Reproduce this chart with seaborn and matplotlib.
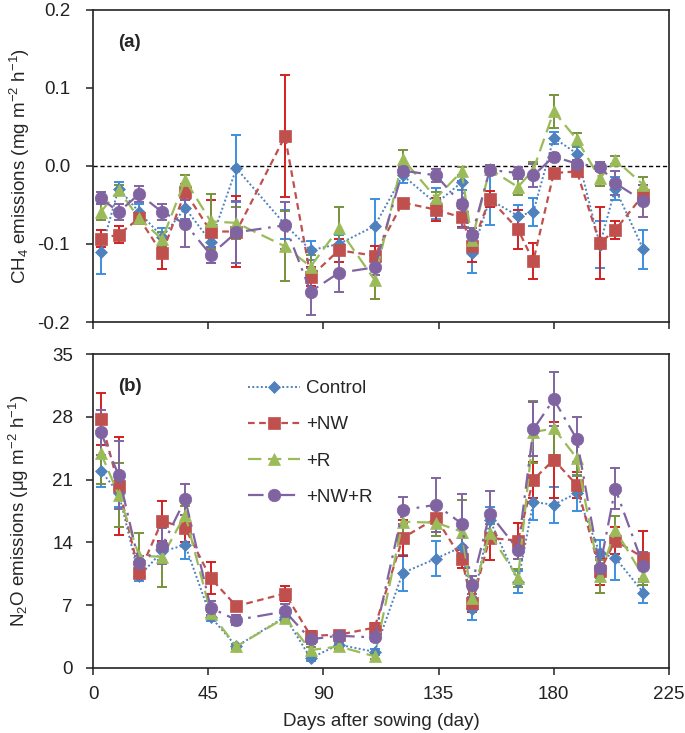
import numpy as np
import pandas as pd
import matplotlib
matplotlib.use("Agg")
import matplotlib.pyplot as plt
import seaborn as sns

days = [3, 10, 18, 27, 36, 46, 56, 75, 85, 96, 110, 121, 134, 144, 148, 155, 166, 172, 180, 189, 198, 204, 215]
treatments = ["Control", "+NW", "+R", "+NW+R"]

ch4_control = [-0.110, -0.029, -0.059, -0.091, -0.054, -0.097, -0.003, -0.075, -0.108, -0.100, -0.077, -0.012, -0.048, -0.021, -0.112, -0.043, -0.064, -0.059, 0.036, 0.016, -0.101, -0.029, -0.107]
ch4_nw = [-0.093, -0.088, -0.067, -0.112, -0.033, -0.084, -0.084, 0.038, -0.142, -0.108, -0.115, -0.047, -0.056, -0.066, -0.103, -0.042, -0.081, -0.122, -0.009, -0.007, -0.099, -0.082, -0.037]
ch4_r = [-0.059, -0.031, -0.067, -0.094, -0.018, -0.071, -0.073, -0.103, -0.129, -0.080, -0.146, 0.009, -0.041, -0.007, -0.095, -0.004, -0.027, -0.005, 0.070, 0.034, -0.016, 0.008, -0.024]
ch4_nwr = [-0.041, -0.059, -0.036, -0.059, -0.074, -0.114, -0.085, -0.076, -0.161, -0.137, -0.130, -0.006, -0.012, -0.049, -0.089, -0.005, -0.009, -0.012, 0.012, 0.003, -0.001, -0.022, -0.045]

ch4_control_err = [0.028, 0.008, 0.010, 0.012, 0.014, 0.008, 0.043, 0.018, 0.012, 0.012, 0.035, 0.010, 0.020, 0.010, 0.025, 0.033, 0.014, 0.018, 0.008, 0.008, 0.030, 0.015, 0.025]
ch4_nw_err = [0.011, 0.011, 0.008, 0.020, 0.010, 0.040, 0.045, 0.078, 0.012, 0.015, 0.012, 0.005, 0.015, 0.012, 0.020, 0.010, 0.025, 0.023, 0.005, 0.005, 0.046, 0.012, 0.012]
ch4_r_err = [0.010, 0.006, 0.008, 0.010, 0.006, 0.035, 0.020, 0.045, 0.015, 0.028, 0.025, 0.012, 0.008, 0.006, 0.015, 0.004, 0.010, 0.010, 0.021, 0.008, 0.010, 0.005, 0.010]
ch4_nwr_err = [0.008, 0.010, 0.010, 0.010, 0.030, 0.010, 0.040, 0.030, 0.030, 0.025, 0.010, 0.006, 0.008, 0.030, 0.010, 0.006, 0.008, 0.015, 0.005, 0.005, 0.006, 0.015, 0.020]

n2o_control = [22.0, 19.5, 10.2, 13.0, 13.7, 5.7, 2.4, 5.7, 1.1, 2.6, 1.8, 10.6, 12.2, 13.5, 6.6, 16.5, 9.6, 18.5, 18.2, 19.5, 12.8, 12.3, 8.4]
n2o_nw = [27.8, 20.3, 10.6, 16.4, 15.6, 10.0, 6.9, 8.3, 3.6, 3.7, 4.5, 14.5, 16.7, 12.2, 7.2, 14.5, 14.2, 21.0, 23.2, 20.4, 10.8, 14.2, 12.3]
n2o_r = [24.0, 19.3, 12.5, 12.4, 17.1, 6.1, 2.4, 5.6, 2.0, 2.4, 1.3, 16.3, 16.2, 15.2, 7.8, 15.0, 10.0, 26.3, 26.7, 23.4, 10.2, 15.4, 10.2]
n2o_nwr = [26.3, 21.5, 11.7, 13.6, 18.8, 6.7, 5.35, 6.3, 3.2, 3.6, 3.4, 17.6, 18.2, 16.1, 9.3, 17.2, 13.2, 26.6, 29.95, 25.5, 11.2, 20.0, 11.4]

n2o_control_err = [1.8, 1.5, 0.5, 1.0, 1.5, 0.5, 0.3, 0.5, 0.3, 0.3, 0.3, 2.0, 2.0, 1.0, 1.3, 1.5, 1.2, 2.0, 2.0, 2.0, 1.5, 2.5, 1.2]
n2o_nw_err = [2.9, 5.5, 0.5, 2.2, 1.5, 1.8, 0.5, 0.8, 0.5, 0.3, 0.5, 2.0, 1.5, 1.0, 1.0, 2.5, 2.0, 2.0, 4.2, 1.5, 1.5, 1.5, 3.0]
n2o_r_err = [3.5, 3.6, 2.5, 3.4, 1.0, 0.5, 0.3, 0.5, 0.3, 0.3, 0.3, 1.5, 1.5, 3.5, 1.0, 1.0, 1.0, 3.5, 3.0, 2.0, 1.8, 1.5, 1.0]
n2o_nwr_err = [2.5, 3.8, 0.8, 2.0, 1.7, 0.8, 0.6, 0.8, 0.5, 0.3, 0.4, 1.5, 3.0, 3.3, 1.0, 2.5, 1.0, 3.0, 3.0, 2.5, 1.2, 2.3, 1.5]

sns.set_style("ticks")
plt.rcParams['font.family'] = ['Liberation Sans', 'DejaVu Sans']
plt.rcParams['axes.unicode_minus'] = False
plt.rcParams['mathtext.fontset'] = 'custom'
plt.rcParams['mathtext.rm'] = 'Liberation Sans'
plt.rcParams['mathtext.it'] = 'Liberation Sans'

FS = 13.5

styles = {
    "Control": dict(color="#4f81bd", ecolor="#3c8fe0", marker="D", ms=6.5, ls=(0, (1, 1.2)), lw=1.4),
    "+NW": dict(color="#c0504d", ecolor="#d42020", marker="s", ms=8.5, ls=(0, (3, 2)), lw=1.6),
    "+R": dict(color="#9bbb59", ecolor="#77933c", marker="^", ms=9, ls=(0, (6, 3)), lw=1.6),
    "+NW+R": dict(color="#8064a2", ecolor="#8064a2", marker="o", ms=9, ls=(0, (7, 3, 1.2, 3)), lw=1.6),
}

fig = plt.figure(figsize=(6.85, 7.33), dpi=100)
ax1 = fig.add_axes([0.1358, 0.5607, 0.8408, 0.4257])
ax2 = fig.add_axes([0.1358, 0.0887, 0.8408, 0.4283])

panels = [
    (ax1, [ch4_control, ch4_nw, ch4_r, ch4_nwr], [ch4_control_err, ch4_nw_err, ch4_r_err, ch4_nwr_err]),
    (ax2, [n2o_control, n2o_nw, n2o_r, n2o_nwr], [n2o_control_err, n2o_nw_err, n2o_r_err, n2o_nwr_err]),
]

for ax, vals, errs in panels:
    for name, v, e in zip(treatments, vals, errs):
        st = styles[name]
        ax.errorbar(days, v, yerr=e, fmt="none", ecolor=st["ecolor"], elinewidth=1.4,
                    capsize=3.5, capthick=1.4, zorder=2, label="_nolegend_")
        df = pd.DataFrame({"day": days, "val": v})
        sns.lineplot(data=df, x="day", y="val", ax=ax, color=st["color"], marker=st["marker"],
                     markersize=st["ms"], markeredgecolor=st["color"], markeredgewidth=0.5,
                     linestyle=st["ls"], linewidth=st["lw"], label=name, zorder=3,
                     errorbar=None, sort=False)
    ax.set_xlim(0, 225)
    ax.set_xticks([0, 45, 90, 135, 180, 225])
    ax.set_xlabel("")
    for sp in ax.spines.values():
        sp.set_visible(True)
        sp.set_linewidth(1.2)
        sp.set_color("#222222")
    ax.tick_params(direction="out", length=5, width=1.1, labelsize=FS, colors="#222222")
    ax.tick_params(axis="x", pad=7.8)

ax1.tick_params(axis="y", pad=11.5)
ax2.tick_params(axis="y", pad=9.5)

ax1.axhline(0, color="black", ls=(0, (3, 2)), lw=1.0, zorder=1)
ax1.set_ylim(-0.2, 0.2)
ax1.set_yticks([-0.2, -0.1, 0.0, 0.1, 0.2])
ax1.set_yticklabels(["-0.2", "-0.1", "0.0", "0.1", "0.2"])
ax1.set_xticklabels([])
ax1.set_ylabel(r"CH$_4$ emissions (mg m$^{-2}$ h$^{-1}$)", fontsize=FS, labelpad=4)
ax1.get_legend().remove()
ax1.text(0.043, 0.897, "(a)", transform=ax1.transAxes, fontsize=FS, fontweight="bold", va="center")

ax2.set_ylim(0, 35)
ax2.set_yticks([0, 7, 14, 21, 28, 35])
ax2.set_ylabel(r"N$_2$O emissions ($\mu$g m$^{-2}$ h$^{-1}$)", fontsize=FS, labelpad=15)
ax2.set_xlabel("Days after sowing (day)", fontsize=FS, labelpad=7.5)
ax2.text(0.043, 0.896, "(b)", transform=ax2.transAxes, fontsize=FS, fontweight="bold", va="center")
ax2.legend(loc="upper left", bbox_to_anchor=(0.269, 0.917), frameon=False, fontsize=FS,
           handlelength=2.8, handletextpad=0.3, labelspacing=1.02, borderpad=0, borderaxespad=0)

fig.savefig("out.png", dpi=100)
